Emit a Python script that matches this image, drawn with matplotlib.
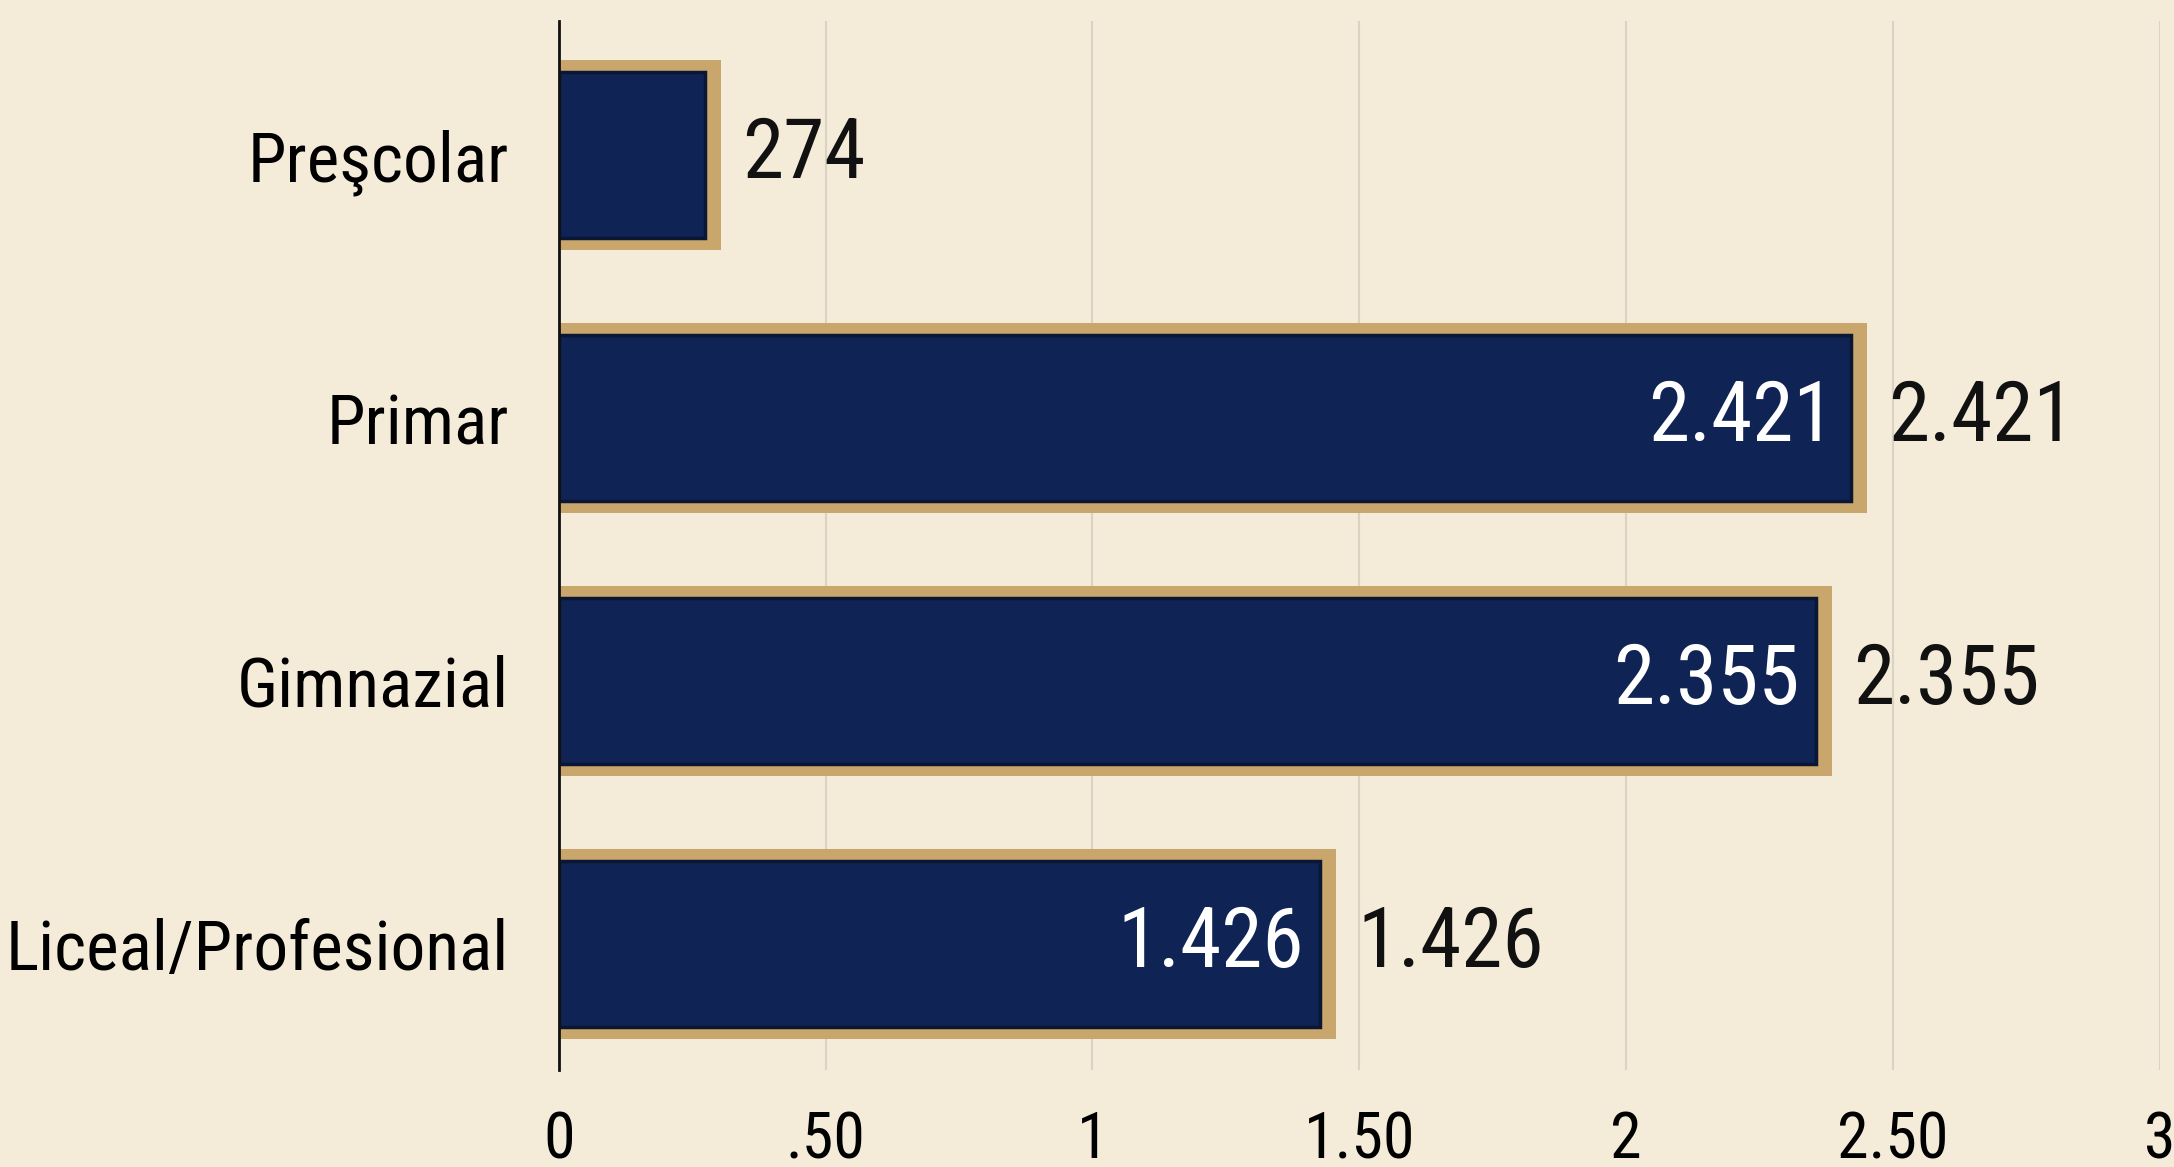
import matplotlib
matplotlib.use("Agg")
import matplotlib.pyplot as plt
from matplotlib import font_manager

# ---------------- DATA ----------------
categories = ["Preşcolar", "Primar", "Gimnazial", "Liceal/Profesional"]
values = [0.274, 2.421, 2.355, 1.426]
value_labels = ["274", "2.421", "2.355", "1.426"]
inner_labels = ["", "2.421", "2.355", "1.426"]
xtick_values = [0, 0.5, 1, 1.5, 2, 2.5, 3]
xtick_labels = ["0", ".50", "1", "1.50", "2", "2.50", "3"]

# ---------------- STYLE ----------------
BG = "#F4ECD9"
NAVY = "#0F2454"
GOLD = "#C9A66B"
DARK = "#0A1633"
GRID = "#DAD3C3"

installed = {f.name for f in font_manager.fontManager.ttflist}
families = [f for f in ["Liberation Sans Narrow", "Roboto Condensed", "DejaVu Sans Condensed"] if f in installed]
plt.rcParams["font.family"] = families + ["Liberation Sans", "DejaVu Sans"]

fig = plt.figure(figsize=(21.74, 11.67), dpi=100, facecolor=BG)
ax = fig.add_axes([0.257, 0.083, 0.7365, 0.899])
ax.set_facecolor(BG)

y = list(range(len(categories)))
pad = 0.03

# gold frame behind, navy bar on top
ax.barh(y, [v + pad for v in values], height=0.72, color=GOLD, zorder=2)
ax.barh(y, values, height=0.63, color=NAVY, edgecolor=DARK, linewidth=2.5, zorder=3)

for yi, v, lab, inner in zip(y, values, value_labels, inner_labels):
    ax.text(v + pad + 0.04, yi, lab, va="center", ha="left",
            fontsize=60, color="#111111", zorder=4)
    if inner:
        ax.text(v - 0.03, yi, inner, va="center", ha="right",
                fontsize=60, color="white", zorder=4)

ax.set_xlim(0, 3)
ax.set_ylim(3.48, -0.51)
ax.set_yticks(y)
ax.set_yticklabels(categories, fontsize=50)
ax.set_xticks(xtick_values)
ax.set_xticklabels(xtick_labels, fontsize=46)

ax.tick_params(axis="y", length=0, pad=36)
ax.tick_params(axis="x", length=0, pad=28)
ax.xaxis.grid(True, color=GRID, linewidth=1.5, zorder=0)
ax.set_axisbelow(True)

for side in ["top", "right", "bottom"]:
    ax.spines[side].set_visible(False)
ax.spines["left"].set_linewidth(2)
ax.spines["left"].set_color("#111111")
ax.spines["left"].set_zorder(5)

fig.savefig("out.png", dpi=100, facecolor=BG)
